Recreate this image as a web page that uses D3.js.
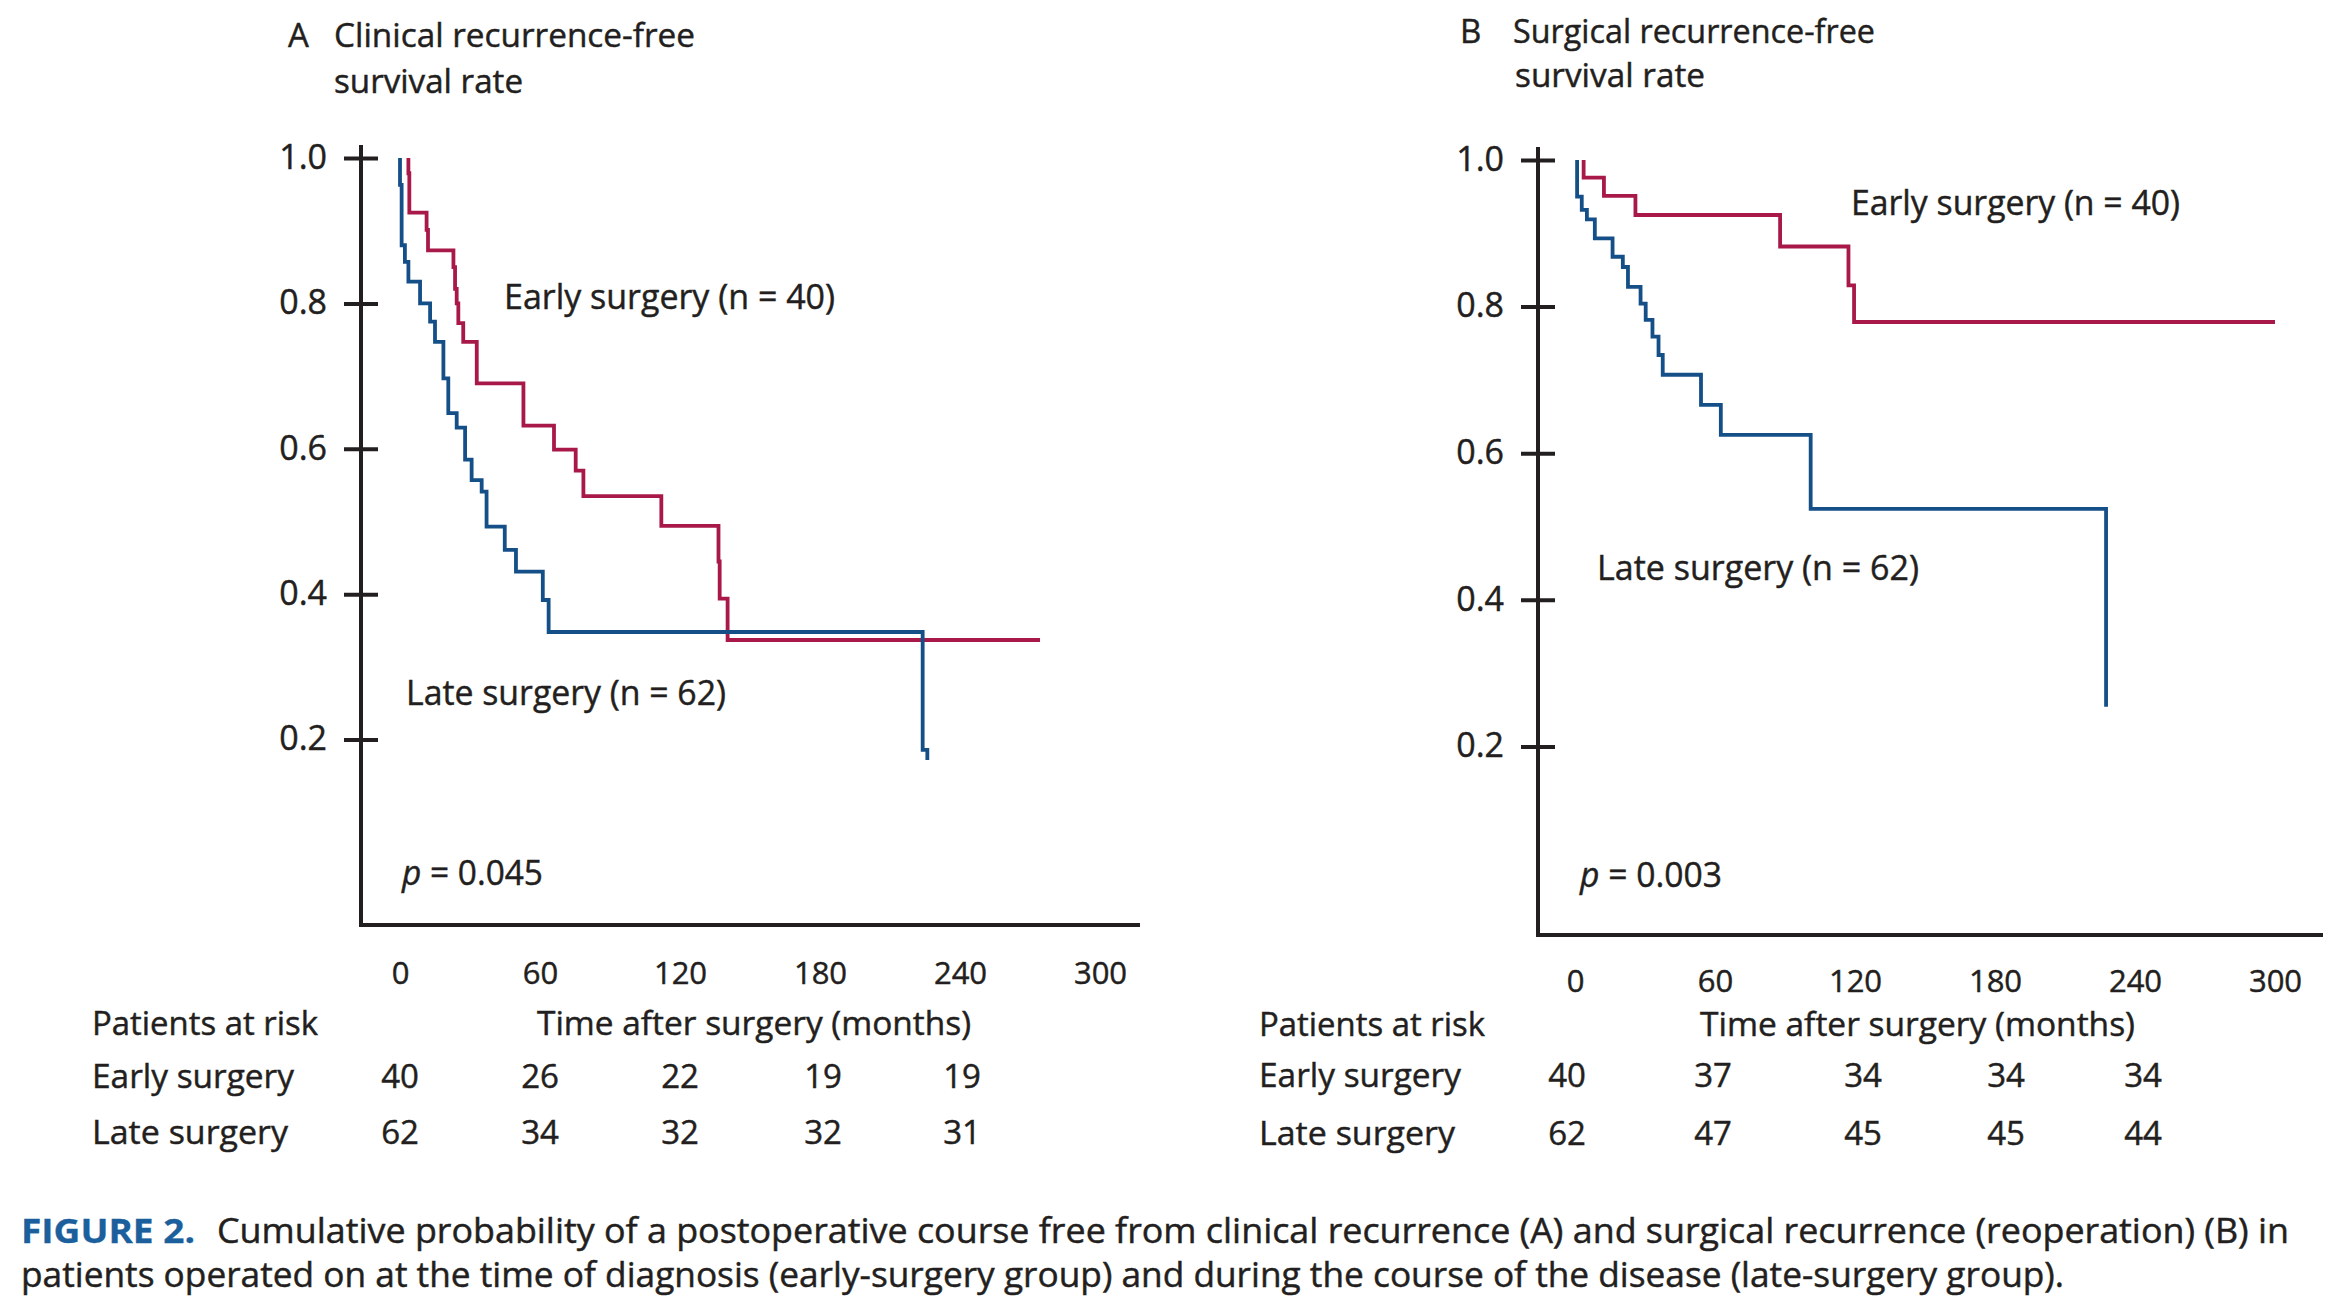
<!DOCTYPE html>
<html><head><meta charset="utf-8">
<script src="https://cdn.jsdelivr.net/npm/d3@7"></script>
<style>
body{margin:0;background:#fff}
svg{display:block}
text{font-family:"Open Sans","Noto Sans",sans-serif;fill:#231f20;stroke:#231f20;stroke-width:0.45px}
</style>
</head><body>
<svg id="chart" width="2346" height="1306"></svg>
<script>
// ---------------- DATA ----------------
const timeTicks = [0, 60, 120, 180, 240, 300];
const survTicks = [0.2, 0.4, 0.6, 0.8, 1.0];
const riskTimes = [0, 60, 120, 180, 240];
const riskRowLabels = ["Early surgery", "Late surgery"];
const riskA_early = [40, 26, 22, 19, 19];
const riskA_late  = [62, 34, 32, 32, 31];
const riskB_early = [40, 37, 34, 34, 34];
const riskB_late  = [62, 47, 45, 45, 44];

// Kaplan–Meier steps: [month, survival after the step]
const kmA_early = [[3.6,1.0],[3.6,0.979],[4.0,0.925],[11.4,0.901],[12.0,0.873],[22.9,0.850],[23.6,0.820],
  [24.3,0.800],[25.0,0.773],[27.1,0.747],[32.9,0.690],[52.9,0.632],[66.0,0.599],[75.3,0.570],[78.6,0.535],
  [112.0,0.494],[136.5,0.445],[137.0,0.394],[140.4,0.337],[274.3,0.337]];
const kmA_late = [[0.0,1.0],[0.0,0.963],[0.7,0.880],[2.1,0.857],[3.6,0.830],[8.6,0.800],[12.9,0.775],
  [15.0,0.747],[18.6,0.697],[20.7,0.649],[24.3,0.629],[27.9,0.585],[30.7,0.557],[35.0,0.541],[37.1,0.493],
  [44.9,0.461],[49.7,0.431],[61.2,0.392],[63.7,0.348],[224.0,0.186],[226.0,0.172]];
const kmB_early = [[3.7,1.0],[3.7,0.976],[12.4,0.951],[25.9,0.925],[87.9,0.882],[117.2,0.829],
  [119.6,0.779],[300.0,0.779]];
const kmB_late = [[0.9,1.0],[0.9,0.950],[2.9,0.932],[5.1,0.919],[8.5,0.893],[16.1,0.868],[20.5,0.854],
  [22.7,0.827],[28.1,0.804],[30.3,0.782],[33.2,0.759],[35.8,0.734],[37.6,0.707],[54.0,0.666],
  [62.5,0.625],[101.0,0.524],[227.6,0.254]];

const seriesNames = ["Early surgery (n = 40)", "Late surgery (n = 62)"];
const pValues = ["0.045", "0.003"];
const panelLetters = ["A", "B"];
const titleLine1 = ["Clinical recurrence-free", "Surgical recurrence-free"];
const titleLine2 = "survival rate";
const xTitle = "Time after surgery (months)";
const riskTitle = "Patients at risk";
const captionHead = "FIGURE 2.";
const captionLine1 = "Cumulative probability of a postoperative course free from clinical recurrence (A) and surgical recurrence (reoperation) (B) in";
const captionLine2 = "patients operated on at the time of diagnosis (early-surgery group) and during the course of the disease (late-surgery group).";

// ---------------- LAYOUT ----------------
const RED = "#a8194a", BLUE = "#154f88", INK = "#231f20", CAPBLUE = "#1b5f9d";
const FONT = '"Open Sans","Noto Sans",sans-serif';
const svg = d3.select("#chart");

const panels = [
  { km:[kmA_early,kmA_late], risk:[riskA_early,riskA_late],
    axisX:361, axisTop:145, axisBottom:925, axisRight:1140,
    xr:[400,1100], yr:[885,158], riskShift:[0,0,0,3,2],
    title:{lx:288, tx:334, b1:47, b2:93, w1:361, w2:189},
    early:{x:504,b:309,w:331}, late:{x:406,b:705,w:320}, p:{x:402,b:885,w:141},
    riskX:92, riskTitleX:537, rows:[1035,1088,1144], xTitleW:434, tickPad:37 },
  { km:[kmB_early,kmB_late], risk:[riskB_early,riskB_late],
    axisX:1538, axisTop:147, axisBottom:935, axisRight:2323,
    xr:[1575,2275], yr:[893,160], riskShift:[-8,-2,8,11,8],
    title:{lx:1460, tx:1513, b1:43, b2:87, w1:362, w2:190},
    early:{x:1851,b:215,w:329}, late:{x:1597,b:580,w:322}, p:{x:1580,b:887,w:142},
    riskX:1259, riskTitleX:1700, rows:[1036,1087,1145], xTitleW:435, tickPad:35 }
];

function fit(sel, w){ return sel.attr("textLength", w).attr("lengthAdjust", "spacingAndGlyphs"); }

panels.forEach((P, i) => {
  const x = d3.scaleLinear().domain([0, 300]).range(P.xr);
  const y = d3.scaleLinear().domain([0, 1]).range(P.yr);
  const g = svg.append("g");

  // Y axis with cross ticks
  const yAx = g.append("g").attr("transform", `translate(${P.axisX},0)`)
    .call(d3.axisLeft(y).tickValues(survTicks).tickFormat(d3.format(".1f"))
      .tickSizeInner(16).tickSizeOuter(0).tickPadding(18));
  yAx.select(".domain").remove();
  yAx.selectAll(".tick line").attr("x1", 17).attr("x2", -17)
    .attr("stroke", INK).attr("stroke-width", 4);
  yAx.selectAll(".tick text").attr("font-size", 34).attr("fill", INK)
    .attr("font-family", FONT).attr("dy", "0.3em");

  // axis lines
  g.append("path")
    .attr("d", `M${P.axisX},${P.axisTop}V${P.axisBottom}H${P.axisRight}`)
    .attr("fill", "none").attr("stroke", INK).attr("stroke-width", 4)
    .attr("stroke-linejoin", "miter");

  // X tick labels (no tick marks)
  const xAx = g.append("g").attr("transform", `translate(0,${P.axisBottom})`)
    .call(d3.axisBottom(x).tickValues(timeTicks).tickSize(0).tickPadding(P.tickPad));
  xAx.select(".domain").remove();
  xAx.selectAll(".tick text").attr("font-size", 31).attr("fill", INK).attr("font-family", FONT);

  // KM curves
  const line = d3.line().x(d => x(d[0])).y(d => y(d[1])).curve(d3.curveStepAfter);
  [RED, BLUE].forEach((c, k) => {
    g.append("path").datum(P.km[k]).attr("d", line)
      .attr("fill", "none").attr("stroke", c).attr("stroke-width", 3.8)
      .attr("stroke-linejoin", "miter");
  });

  // titles
  g.append("text").attr("x", P.title.lx).attr("y", P.title.b1).attr("font-size", 33).text(panelLetters[i]);
  fit(g.append("text").attr("x", P.title.tx).attr("y", P.title.b1).attr("font-size", 33).text(titleLine1[i]), P.title.w1);
  fit(g.append("text").attr("x", P.title.tx + (i ? 2 : 0)).attr("y", P.title.b2).attr("font-size", 33).text(titleLine2), P.title.w2);

  // series labels
  fit(g.append("text").attr("x", P.early.x).attr("y", P.early.b).attr("font-size", 35).text(seriesNames[0]), P.early.w);
  fit(g.append("text").attr("x", P.late.x).attr("y", P.late.b).attr("font-size", 35).text(seriesNames[1]), P.late.w);

  // p value
  const pt = g.append("text").attr("x", P.p.x).attr("y", P.p.b).attr("font-size", 35);
  pt.append("tspan").attr("font-style", "italic").text("p");
  pt.append("tspan").text(" = " + pValues[i]);
  fit(pt, P.p.w);

  // risk table
  fit(g.append("text").attr("x", P.riskX).attr("y", P.rows[0]).attr("font-size", 32).text(riskTitle), 226);
  fit(g.append("text").attr("x", P.riskTitleX).attr("y", P.rows[0]).attr("font-size", 32).text(xTitle), P.xTitleW);
  riskRowLabels.forEach((lab, r) => {
    fit(g.append("text").attr("x", P.riskX).attr("y", P.rows[r+1]).attr("font-size", 33).text(lab), r ? 196 : 202);
    g.selectAll(null).data(P.risk[r]).join("text")
      .attr("x", (d, j) => x(riskTimes[j]) + P.riskShift[j]).attr("y", P.rows[r+1])
      .attr("text-anchor", "middle").attr("font-size", 33).text(d => d);
  });
});

// caption
svg.append("text").attr("x", 21).attr("y", 1243).attr("font-size", 34).attr("font-weight", 700)
  .style("fill", CAPBLUE).style("stroke", CAPBLUE).style("stroke-width", "0.3px")
  .text(captionHead).call(fit, 174);
fit(svg.append("text").attr("x", 217).attr("y", 1243).attr("font-size", 34).text(captionLine1), 2072);
fit(svg.append("text").attr("x", 21).attr("y", 1287).attr("font-size", 34).text(captionLine2), 2043);
</script>
</body></html>
